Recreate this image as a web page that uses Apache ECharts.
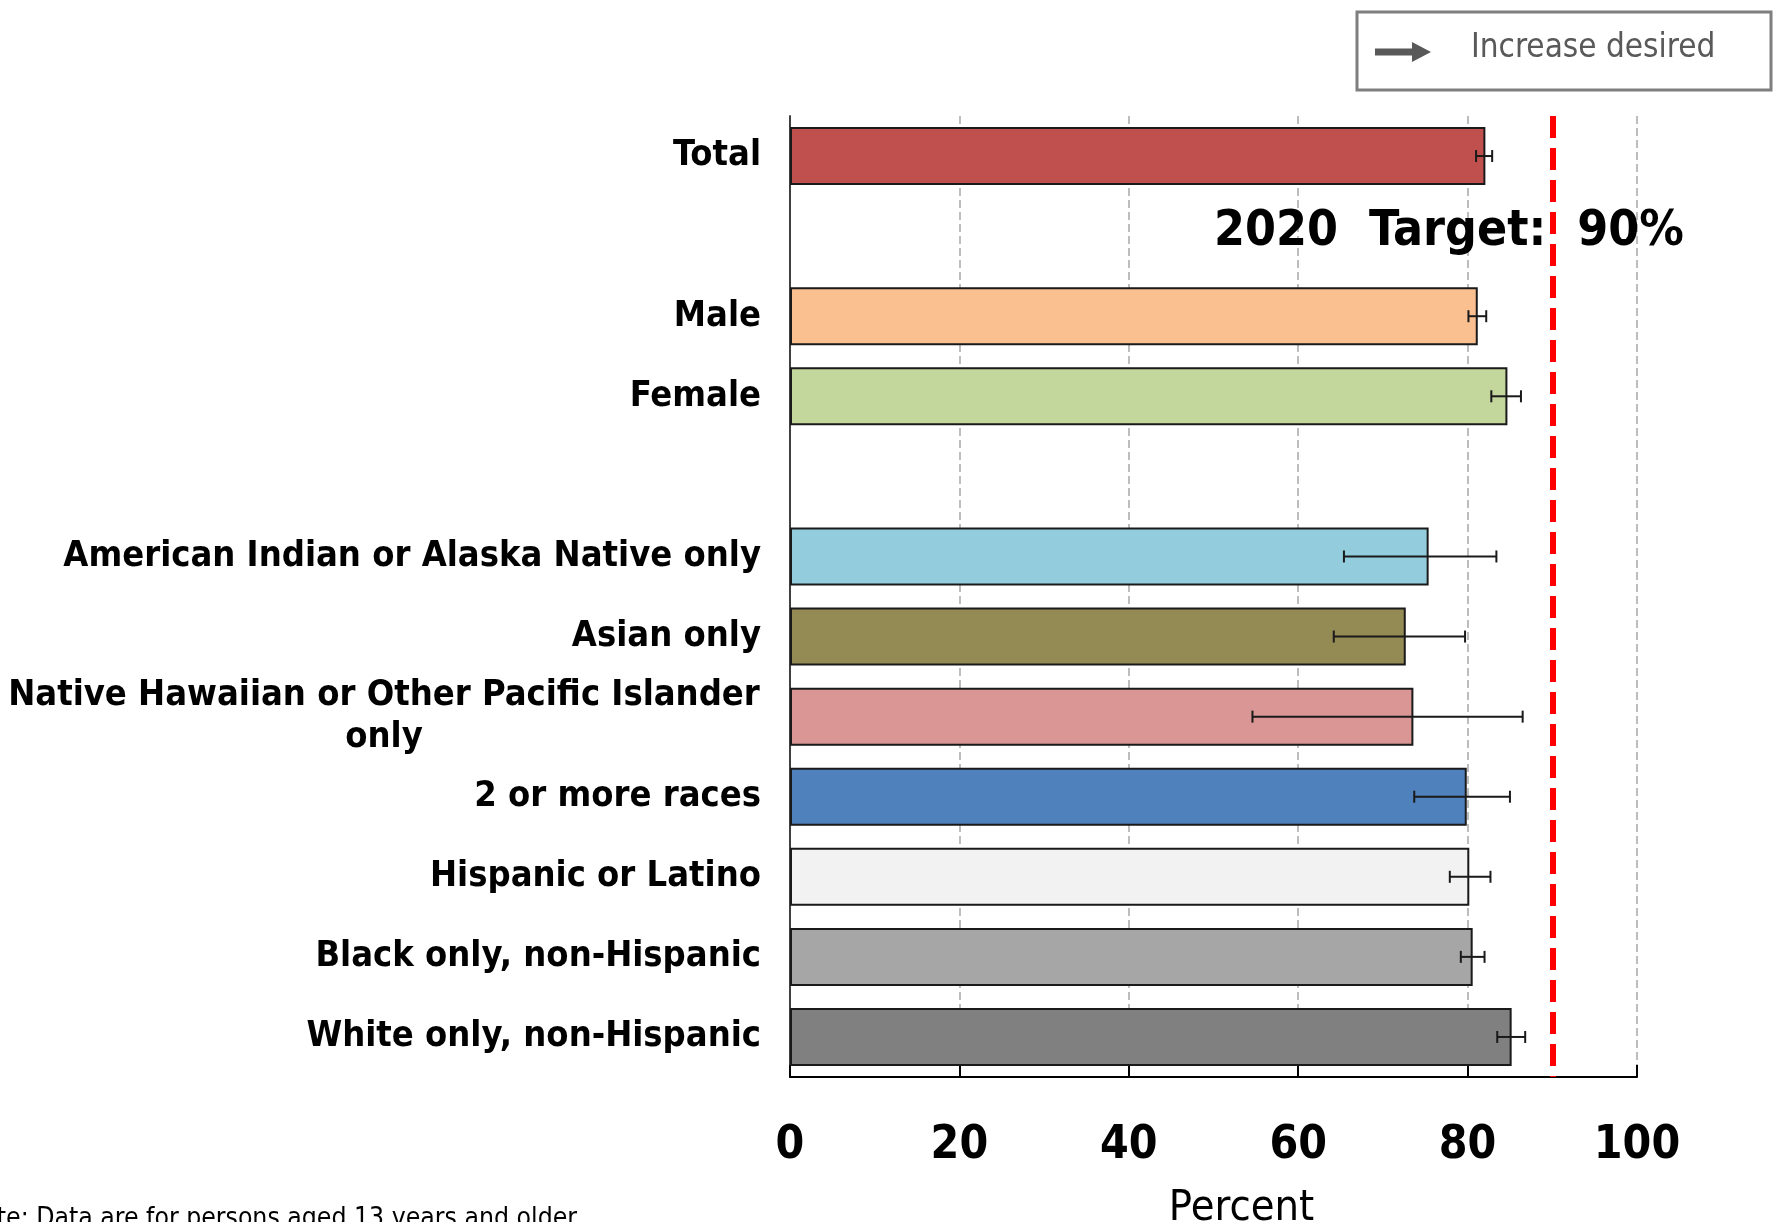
<!DOCTYPE html>
<html>
<head>
<meta charset="utf-8">
<script src="https://cdn.jsdelivr.net/npm/echarts@6/dist/echarts.min.js"></script>
<style>
html,body{margin:0;padding:0;background:#fff;}
#chart{width:1773px;height:1222px;}
</style>
</head>
<body>
<div id="chart"></div>
<script>
const categories = ['Total', '', 'Male', 'Female', '',
  'American Indian or Alaska Native only', 'Asian only',
  'Native Hawaiian or Other Pacific Islander only', '2 or more races',
  'Hispanic or Latino', 'Black only, non-Hispanic', 'White only, non-Hispanic'];
const values = [82.1, null, 81.2, 84.7, null, 75.4, 72.7, 73.6, 79.9, 80.2, 80.6, 85.2];
const ciLow  = [81.0, null, 80.1, 82.8, null, 65.4, 64.2, 54.6, 73.7, 77.9, 79.2, 83.5];
const ciHigh = [82.9, null, 82.2, 86.3, null, 83.4, 79.7, 86.5, 85.0, 82.7, 82.0, 86.8];
const barColors = ['#C0504D', null, '#FAC090', '#C3D69B', null, '#93CDDD', '#948A54',
  '#D99694', '#4F81BD', '#F2F2F2', '#A6A6A6', '#808080'];
const xTickValues = [0, 20, 40, 60, 80, 100];
const TARGET = 90;
const targetText = '2020  Target:  90%';
const legendText = 'Increase desired';
const noteText = 'Note: Data are for persons aged 13 years and older';
const axisTitle = 'Percent';

const FONT = "'DejaVu Sans Condensed', 'DejaVu Sans', sans-serif";
const LABEL_SIZE = 36;

function measure(text, font) {
  const c = document.createElement('canvas').getContext('2d');
  c.font = font;
  return c.measureText(text).width;
}

const twoLine = 'Native Hawaiian or Other Pacific Islander only';
const firstLine = 'Native Hawaiian or Other Pacific Islander';
const blockW = Math.ceil(measure(firstLine, 'bold ' + LABEL_SIZE + 'px ' + FONT)) + 2;

const barData = values.map((v, i) => v == null ? '-' : {
  value: v,
  itemStyle: { color: barColors[i] }
});
const errData = [];
values.forEach((v, i) => { if (v != null) errData.push([i, ciLow[i], ciHigh[i]]); });

const chart = echarts.init(document.getElementById('chart'), null, { renderer: 'canvas' });
chart.setOption({
  animation: false,
  backgroundColor: '#fff',
  grid: { left: 790, right: 136, top: 116, bottom: 145, containLabel: false, outerBoundsMode: 'none' },
  xAxis: {
    type: 'value', min: 0, max: 100, interval: 20,
    axisLine: { show: true, lineStyle: { color: '#000', width: 2 } },
    axisTick: { show: true, inside: true, length: 12, lineStyle: { color: '#000', width: 2 } },
    axisLabel: {
      margin: 46, color: '#000', fontFamily: FONT, fontWeight: 'bold', fontSize: 46,
      formatter: v => xTickValues.indexOf(v) >= 0 ? String(v) : ''
    },
    splitLine: { show: true, lineStyle: { color: '#BDBDBD', width: 2, type: [8, 4] } },
    name: axisTitle, nameLocation: 'middle', nameGap: 110,
    nameTextStyle: { color: '#000', fontFamily: FONT, fontSize: 43, padding: [0, 0, 0, 56] }
  },
  yAxis: {
    type: 'category', inverse: true, data: categories,
    axisLine: { show: true, lineStyle: { color: '#404040', width: 2 } },
    axisTick: { show: false },
    splitLine: { show: false },
    axisLabel: {
      margin: 29, color: '#000', fontFamily: FONT, fontWeight: 'bold', fontSize: LABEL_SIZE,
      interval: 0, lineHeight: 42,
      formatter: v => v === twoLine ? '{c|' + firstLine + '}\n{c|only}' : v,
      rich: {
        c: { width: blockW, align: 'center', fontFamily: FONT, fontWeight: 'bold',
             fontSize: LABEL_SIZE, color: '#000', lineHeight: 42 }
      }
    }
  },
  series: [
    {
      type: 'bar', data: barData, barWidth: 58,
      itemStyle: { borderColor: '#1a1a1a', borderWidth: 2 },
      z: 2,
      markLine: {
        silent: true, symbol: 'none',
        lineStyle: { color: '#FF0000', width: 6, type: [22, 10] },
        label: { show: false },
        data: [{ xAxis: TARGET }]
      },
      markPoint: {
        symbol: 'circle', symbolSize: 0,
        data: [{ coord: [77.8, 1], value: TARGET }],
        label: {
          show: true, position: 'inside', offset: [0, -4],
          formatter: targetText, color: '#000', fontFamily: FONT,
          fontWeight: 'bold', fontSize: 49.5
        }
      }
    },
    {
      type: 'custom', z: 5,
      data: errData,
      encode: { x: [1, 2], y: 0 },
      renderItem: function (params, api) {
        const idx = api.value(0);
        const p1 = api.coord([api.value(1), idx]);
        const p2 = api.coord([api.value(2), idx]);
        const h = 6;
        const st = { stroke: '#1a1a1a', lineWidth: 2 };
        return {
          type: 'group',
          children: [
            { type: 'line', shape: { x1: p1[0], y1: p1[1], x2: p2[0], y2: p2[1] }, style: st },
            { type: 'line', shape: { x1: p1[0], y1: p1[1] - h, x2: p1[0], y2: p1[1] + h }, style: st },
            { type: 'line', shape: { x1: p2[0], y1: p2[1] - h, x2: p2[0], y2: p2[1] + h }, style: st }
          ]
        };
      }
    }
  ],
  graphic: [
    { type: 'rect', shape: { x: 1357, y: 12, width: 414, height: 78 },
      style: { fill: '#fff', stroke: '#7F7F7F', lineWidth: 3 }, z: 10 },
    { type: 'line', shape: { x1: 1375, y1: 52, x2: 1415, y2: 52 },
      style: { stroke: '#595959', lineWidth: 7 }, z: 11 },
    { type: 'polygon', shape: { points: [[1412, 42], [1431, 52], [1412, 62]] },
      style: { fill: '#595959' }, z: 11 },
    { type: 'text', x: 1471, y: 48, z: 11,
      style: { text: legendText, fill: '#595959', font: '33px ' + FONT, verticalAlign: 'middle', align: 'left' } },
    { type: 'text', x: 577, y: 1219, z: 11,
      style: { text: noteText, fill: '#000', font: '26.35px ' + FONT, verticalAlign: 'middle', align: 'right' } }
  ]
});
</script>
</body>
</html>
